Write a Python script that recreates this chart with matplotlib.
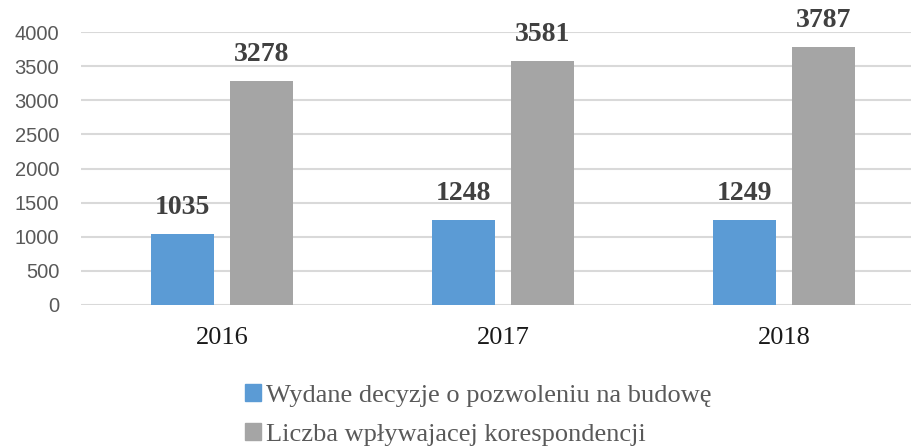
import numpy as np
import matplotlib.pyplot as plt
from matplotlib.patches import Patch

years = ['2016', '2017', '2018']
decyzje = [1035, 1248, 1249]
korespondencja = [3278, 3581, 3787]
series_names = ['Wydane decyzje o pozwoleniu na budowę',
                'Liczba wpływajacej korespondencji']
colors = ['#5B9BD5', '#A5A5A5']

fig = plt.figure(figsize=(9.12, 4.48), dpi=100)
ax = fig.add_axes([81.5 / 912, 1 - 305 / 448, 843 / 912, 273 / 448])

x = np.arange(len(years))
w = 0.224
off = 0.142
b1 = ax.bar(x - off, decyzje, w, color=colors[0], zorder=3)
b2 = ax.bar(x + off, korespondencja, w, color=colors[1], zorder=3)

for bars in (b1, b2):
    for r in bars:
        ax.annotate(f'{int(r.get_height())}', (r.get_x() + r.get_width() / 2, r.get_height()),
                    xytext=(0, 10), textcoords='offset points', ha='center', va='bottom',
                    fontsize=20, fontweight='bold', family='Liberation Serif', color='#404040')

ax.set_xlim(-0.5, 2.5)
ax.set_ylim(0, 4000)
ax.set_yticks(range(0, 4001, 500))
ax.set_xticks(x)
ax.set_xticklabels(years, family='Liberation Serif', fontsize=19, color='#1a1a1a')
for lab in ax.get_yticklabels():
    lab.set_family('Liberation Sans')
    lab.set_fontsize(14.5)
    lab.set_color('#595959')
ax.tick_params(axis='x', length=0, pad=16)
ax.tick_params(axis='y', length=0, pad=16)
ax.grid(axis='y', color='#D9D9D9', linewidth=1.5, zorder=0)
for s in ax.spines.values():
    s.set_visible(False)

handles = [Patch(color=c) for c in colors]
fig.legend(handles, series_names, loc='upper left', bbox_to_anchor=(232 / 912, 1 - 371 / 448),
           frameon=False, borderpad=0, handlelength=0.6, handleheight=0.6, handletextpad=0.2,
           labelspacing=0.62, prop={'family': 'Liberation Serif', 'size': 19}, labelcolor='#595959')

fig.savefig('out.png', dpi=100)
